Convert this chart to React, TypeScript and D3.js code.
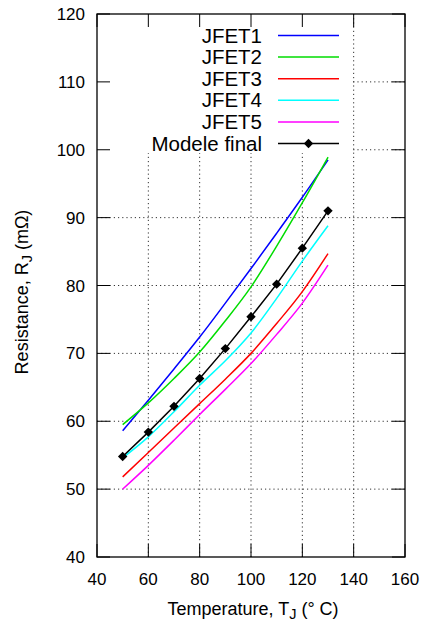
import React from "react";
import * as d3 from "d3";

const temps = [50, 60, 70, 80, 90, 100, 110, 120, 130];
const jfet1 = [58.6, 63.1, 67.7, 72.4, 77.4, 82.5, 87.7, 93.0, 98.5];
const jfet2 = [59.5, 62.7, 66.3, 70.2, 74.8, 79.8, 85.8, 92.2, 98.9];
const jfet3 = [51.8, 55.4, 59.0, 62.6, 66.2, 70.0, 74.4, 79.1, 84.7];
const jfet4 = [54.6, 57.7, 61.4, 65.3, 68.9, 73.0, 78.1, 83.6, 88.8];
const jfet5 = [50.0, 53.5, 57.2, 61.0, 64.7, 68.5, 72.8, 77.4, 83.0];
const modele = [54.8, 58.4, 62.2, 66.3, 70.7, 75.4, 80.2, 85.5, 91.0];

const seriesNames = ["JFET1", "JFET2", "JFET3", "JFET4", "JFET5"];
const seriesColors = ["#0000ff", "#00dd00", "#ff0000", "#00ffff", "#ff00ff"];
const modelName = "Modele final";

const xTicks = [40, 60, 80, 100, 120, 140, 160];
const yTicks = [40, 50, 60, 70, 80, 90, 100, 110, 120];

const W = 421;
const H = 624;
const L = 97, R = 405, T = 14, B = 557;
const FONT = "'Liberation Sans', Arial, Helvetica, sans-serif";

export default function App() {
  const x = d3.scaleLinear().domain([40, 160]).range([L, R]);
  const y = d3.scaleLinear().domain([40, 120]).range([B, T]);
  const allSeries = [jfet1, jfet2, jfet3, jfet4, jfet5];

  const smooth = d3
    .line<number>()
    .x((_, i) => x(temps[i]))
    .y((v) => y(v))
    .curve(d3.curveMonotoneX);
  const straight = d3
    .line<number>()
    .x((_, i) => x(temps[i]))
    .y((v) => y(v));

  const diamond = d3.symbol().type(d3.symbolSquare).size(44)();
  const tickLen = 13;

  const legendTextX = 262;
  const legendLineX0 = 278;
  const legendLineX1 = 339;
  const legendY0 = 35.5;
  const legendDy = 21.6;

  return (
    <svg
      width={W}
      height={H}
      style={{ position: "absolute", left: 0, top: 0, background: "#fff" }}
      fontFamily={FONT}
    >
      <rect x={0} y={0} width={W} height={H} fill="#fff" />
      {/* grid */}
      <g stroke="#333" strokeWidth={1} strokeDasharray="1.2,3">
        {xTicks.slice(1, -1).map((t) => (
          <line key={"gx" + t} x1={x(t)} x2={x(t)} y1={B} y2={T} />
        ))}
        {yTicks.slice(1, -1).map((t) => (
          <line key={"gy" + t} x1={L} x2={R} y1={y(t)} y2={y(t)} />
        ))}
      </g>
      {/* key blank area */}
      <rect x={L} y={T} width={x(140) - 1.5 - L} height={153 - T} fill="#fff" />
      {/* curves */}
      {allSeries.map((s, i) => (
        <path
          key={seriesNames[i]}
          d={smooth(s) || ""}
          fill="none"
          stroke={seriesColors[i]}
          strokeWidth={1.5}
        />
      ))}
      <path d={straight(modele) || ""} fill="none" stroke="#000" strokeWidth={1.5} />
      {modele.map((v, i) => (
        <path
          key={"m" + i}
          d={diamond || ""}
          transform={`translate(${x(temps[i])},${y(v)}) rotate(45)`}
          fill="#000"
        />
      ))}
      {/* ticks */}
      <g stroke="#000" strokeWidth={1}>
        {xTicks.map((t) => (
          <g key={"tx" + t}>
            <line x1={x(t)} x2={x(t)} y1={B} y2={B - tickLen} />
            <line x1={x(t)} x2={x(t)} y1={T} y2={T + tickLen} />
          </g>
        ))}
        {yTicks.map((t) => (
          <g key={"ty" + t}>
            <line x1={L} x2={L + tickLen} y1={y(t)} y2={y(t)} />
            <line x1={R} x2={R - tickLen} y1={y(t)} y2={y(t)} />
          </g>
        ))}
      </g>
      {/* border */}
      <rect x={L} y={T} width={R - L} height={B - T} fill="none" stroke="#000" strokeWidth={1.3} />
      {/* tick labels */}
      <g fontSize={17} fill="#000">
        {xTicks.map((t) => (
          <text key={"lx" + t} x={x(t)} y={585} textAnchor="middle">
            {t}
          </text>
        ))}
        {yTicks.map((t) => (
          <text key={"ly" + t} x={85} y={y(t) + 6} textAnchor="end">
            {t}
          </text>
        ))}
      </g>
      {/* axis titles */}
      <text x={253} y={615} fontSize={18} textAnchor="middle" fill="#000">
        Temperature, T
        <tspan fontSize={14.5} dy={4}>J</tspan>
        <tspan dy={-4}> (° C)</tspan>
      </text>
      <text
        transform={`translate(28,${292}) rotate(-90)`}
        fontSize={18}
        textAnchor="middle"
        fill="#000"
      >
        Resistance, R
        <tspan fontSize={14.5} dy={4}>J</tspan>
        <tspan dy={-4}> (mΩ)</tspan>
      </text>
      {/* legend */}
      <g>
        {seriesNames.map((n, i) => (
          <g key={"lg" + n}>
            <text
              x={legendTextX}
              y={legendY0 + i * legendDy + 7}
              fontSize={20.5}
              textAnchor="end"
              fill="#000"
            >
              {n}
            </text>
            <line
              x1={legendLineX0}
              x2={legendLineX1}
              y1={legendY0 + i * legendDy}
              y2={legendY0 + i * legendDy}
              stroke={seriesColors[i]}
              strokeWidth={1.5}
            />
          </g>
        ))}
        <text
          x={legendTextX}
          y={legendY0 + 5 * legendDy + 7}
          fontSize={20.5}
          textAnchor="end"
          fill="#000"
        >
          {modelName}
        </text>
        <line
          x1={legendLineX0}
          x2={legendLineX1}
          y1={legendY0 + 5 * legendDy}
          y2={legendY0 + 5 * legendDy}
          stroke="#000"
          strokeWidth={1.5}
        />
        <path
          d={diamond || ""}
          transform={`translate(${(legendLineX0 + legendLineX1) / 2},${legendY0 + 5 * legendDy}) rotate(45)`}
          fill="#000"
        />
      </g>
    </svg>
  );
}
